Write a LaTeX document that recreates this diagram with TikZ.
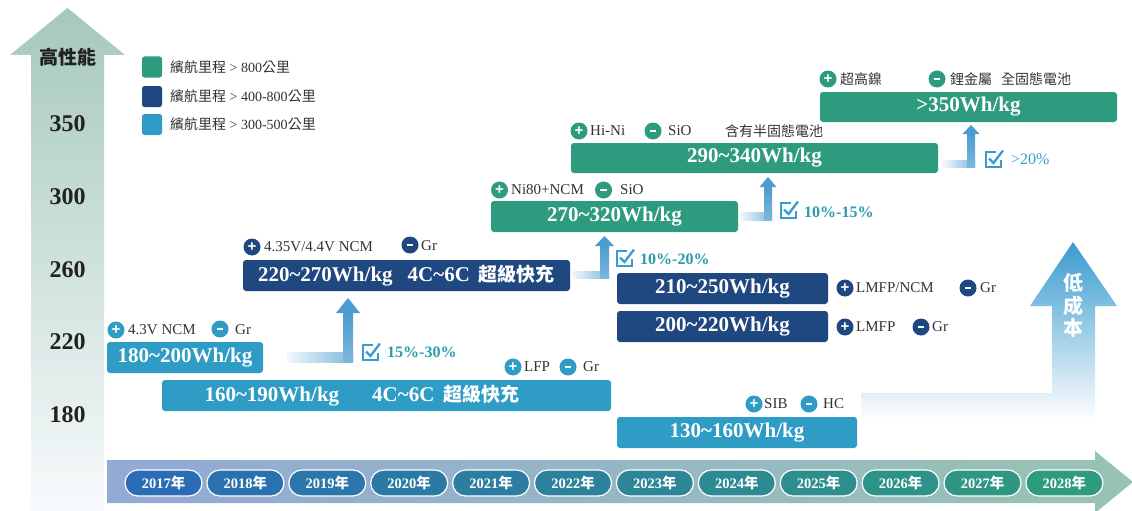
\documentclass[tikz,border=0pt]{standalone}
\usepackage{fontspec}
\setmainfont{Liberation Serif}
\newfontfamily\cjk{Noto Sans CJK TC}
\newfontfamily\sansf{Liberation Sans}
\definecolor{cgreen}{HTML}{2E9B7F}
\definecolor{cdblue}{HTML}{1F4780}
\definecolor{clblue}{HTML}{2E9CC5}
\definecolor{carrow}{HTML}{4C9CCF}
\definecolor{carrowl}{HTML}{7DB7DC}
\definecolor{ccheck}{HTML}{3A9BD0}
\definecolor{cpct}{HTML}{2A9CAD}
\definecolor{cpctb}{HTML}{3A9FCF}
\definecolor{ctext}{HTML}{333333}
\definecolor{caxis}{HTML}{222222}
\definecolor{axtop}{HTML}{A5C8BE}
\definecolor{axbot}{HTML}{F8FAFC}
\definecolor{tlleft}{HTML}{93A9D6}
\definecolor{tlright}{HTML}{98C4B3}
\definecolor{pillA}{HTML}{2A6DB5}
\definecolor{pillB}{HTML}{2E9A7E}
\definecolor{lowtop}{HTML}{3A9BCF}
\newcommand{\mysign}{\rule[-0.8pt]{6.5pt}{1.6pt}}
\tikzset{
 box/.style={rounded corners=3pt, inner sep=0pt, text=white, font=\bfseries\fontsize{21}{21}\selectfont},
 btxt/.style={inner sep=0pt, text=white, font=\bfseries\fontsize{21}{21}\selectfont},
 badge/.style={circle, minimum size=17pt, inner sep=0pt, text=white, font=\sansf\bfseries\fontsize{15}{15}\selectfont},
 lbl/.style={anchor=west, inner sep=0pt, text=ctext, font=\fontsize{15}{15}\selectfont},
 clbl/.style={anchor=west, inner sep=0pt, text=ctext, font=\cjk\fontsize{14}{14}\selectfont},
 legsq/.style={rounded corners=2.5pt, minimum width=20pt, minimum height=21pt, inner sep=0pt},
 legtx/.style={anchor=west, inner sep=0pt, text=ctext, font=\fontsize{14}{14}\selectfont},
 axnum/.style={inner sep=0pt, text=caxis, font=\bfseries\fontsize{24}{24}\selectfont},
 pill/.style={rounded corners=13pt, draw=white, line width=1.2pt, minimum width=77pt, minimum height=26pt, inner sep=0pt, text=white, font=\bfseries\fontsize{14.5}{14.5}\selectfont},
 pct/.style={anchor=west, inner sep=0pt, text=cpct, font=\bfseries\fontsize{16}{16}\selectfont},
 lowtxt/.style={inner sep=0pt, text=white, font=\cjk\bfseries\fontsize{20}{20}\selectfont},
 chk/.pic={
   \draw[ccheck, line width=1.8pt] (10,0) -- (0,0) -- (0,15) -- (15,15) -- (15,8);
   \draw[ccheck, line width=2.3pt, line join=miter] (3,6.5) -- (7.5,11) -- (17,-1.5);
 }
}
\begin{document}
\begin{tikzpicture}[x=1pt,y=-1pt]
\useasboundingbox (0,0) rectangle (1132,511);
\clip (0,0) rectangle (1132,511);
\fill[white] (0,0) rectangle (1132,511);

% left performance arrow
\shade[top color=axtop, bottom color=axbot] (31,511) -- (31,55) -- (10,55) -- (67.5,8) -- (125,55) -- (104,55) -- (104,511) -- cycle;
\node[inner sep=0pt, text=caxis, font=\cjk\bfseries\fontsize{19}{19}\selectfont] (hp) at (67.5,57) {高性能};
\node[axnum] (a350) at (67.5,124) {350};
\node[axnum] (a300) at (67.5,197) {300};
\node[axnum] (a260) at (67.5,270) {260};
\node[axnum] (a220) at (67.5,342) {220};
\node[axnum] (a180) at (67.5,415) {180};

% legend
\node[legsq, fill=cgreen] (sq1) at (152,67) {};
\node[legtx] (lg1) at (170,67) {{\cjk 繽航里程} > 800{\cjk 公里}};
\node[legsq, fill=cdblue] (sq2) at (152,96.5) {};
\node[legtx] (lg2) at (170,96.5) {{\cjk 繽航里程} > 400-800{\cjk 公里}};
\node[legsq, fill=clblue] (sq3) at (152,124.5) {};
\node[legtx] (lg3) at (170,124.5) {{\cjk 繽航里程} > 300-500{\cjk 公里}};

% low cost arrow
\shade[top color=lowtop, bottom color=white] (861,393) -- (1052,393) -- (1052,306) -- (1030,306) -- (1073,242) -- (1117,306) -- (1095,306) -- (1095,420) -- (861,420) -- cycle;
\node[lowtxt] (lc1) at (1073,283) {低};
\node[lowtxt] (lc2) at (1073,306) {成};
\node[lowtxt] (lc3) at (1073,328) {本};

% timeline
\shade[left color=tlleft, right color=tlright] (107,460) -- (1095,460) -- (1095,451) -- (1133,482) -- (1095,513) -- (1095,503) -- (107,503) -- cycle;
\foreach \i in {0,...,11} {
  \pgfmathsetmacro{\px}{163.5+81.9*\i}
  \pgfmathtruncatemacro{\pp}{100-\i*100/11}
  \pgfmathtruncatemacro{\yr}{2017+\i}
  \node[pill, fill=pillA!\pp!pillB] (y\yr) at (\px,483) {\yr{\cjk 年}};
}

% elbow arrows
\shade[left color=carrowl!10, right color=carrowl] (287,352) rectangle (353,362);
\shade[bottom color=carrowl, top color=carrow] (343,362) rectangle (353,313);
\fill[carrow] (336,313) -- (348,298) -- (360,313) -- cycle;

\shade[left color=carrowl!10, right color=carrowl] (572,271) rectangle (609,278);
\shade[bottom color=carrowl, top color=carrow] (600,278) rectangle (609,246);
\fill[carrow] (595,246) -- (604.5,236) -- (614,246) -- cycle;

\shade[left color=carrowl!10, right color=carrowl] (740,212) rectangle (772,220);
\shade[bottom color=carrowl, top color=carrow] (764,220) rectangle (772,187);
\fill[carrow] (759.5,187) -- (768,177) -- (776.5,187) -- cycle;

\shade[left color=carrowl!10, right color=carrowl] (943,160) rectangle (975,167);
\shade[bottom color=carrowl, top color=carrow] (967,167) rectangle (975,134);
\fill[carrow] (962.5,134) -- (971,125) -- (979.5,134) -- cycle;

% check marks and percentages
\pic at (363,345) {chk};
\node[pct] (pc1) at (387,352) {15\%-30\%};
\pic at (617,251) {chk};
\node[pct] (pc2) at (640,259) {10\%-20\%};
\pic at (781,203) {chk};
\node[pct] (pc3) at (804,212) {10\%-15\%};
\pic at (986,152) {chk};
\node[pct, text=cpctb, font=\fontsize{16}{16}\selectfont] (pc4) at (1011,159) {>20\%};

% boxes
\node[box, fill=cgreen, minimum width=297pt, minimum height=30pt] (b350) at (968.5,107) {>350Wh/kg};
\node[box, fill=cgreen, minimum width=367pt, minimum height=30pt] (b290) at (754.5,158) {290\textasciitilde340Wh/kg};
\node[box, fill=cgreen, minimum width=247pt, minimum height=31pt] (b270) at (614.5,216.5) {270\textasciitilde320Wh/kg};
\node[box, fill=cdblue, minimum width=327pt, minimum height=31pt] (b220) at (406.5,275.5) {220\textasciitilde270Wh/kg\hspace{15pt}4C\textasciitilde6C\hspace{9pt}{\cjk\fontsize{19}{19}\selectfont 超級快充}};
\node[box, fill=cdblue, minimum width=211pt, minimum height=31pt] (b210) at (722.5,288.5) {210\textasciitilde250Wh/kg};
\node[box, fill=cdblue, minimum width=211pt, minimum height=31pt] (b200) at (722.5,326.5) {200\textasciitilde220Wh/kg};
\node[box, fill=clblue, minimum width=156pt, minimum height=31pt] (b180) at (185,357.5) {180\textasciitilde200Wh/kg};
\node[box, fill=clblue, minimum width=449pt, minimum height=31pt] (b160) at (386.5,395.5) {};
\node[btxt] (t160) at (362,395.5) {160\textasciitilde190Wh/kg\hspace{33pt}4C\textasciitilde6C\hspace{9pt}{\cjk\fontsize{19}{19}\selectfont 超級快充}};
\node[box, fill=clblue, minimum width=240pt, minimum height=31pt] (b130) at (737,432.5) {130\textasciitilde160Wh/kg};

% labels
\node[badge, fill=cgreen] (p350) at (828,79) {+};
\node[clbl] (l350a) at (840,79) {超高鎳};
\node[badge, fill=cgreen] (m350) at (937,79) {\mysign};
\node[clbl] (l350b) at (950,79) {鋰金屬\hspace{9pt}全固態電池};

\node[badge, fill=cgreen] (p290) at (579,131) {+};
\node[lbl] (l290a) at (590,131) {Hi-Ni};
\node[badge, fill=cgreen] (m290) at (653,131) {\mysign};
\node[lbl] (l290b) at (668,131) {SiO};
\node[clbl] (l290c) at (725,131) {含有半固態電池};

\node[badge, fill=cgreen] (p270) at (499.5,190) {+};
\node[lbl] (l270a) at (511,190) {Ni80+NCM};
\node[badge, fill=cgreen] (m270) at (603.5,190) {\mysign};
\node[lbl] (l270b) at (620,190) {SiO};

\node[badge, fill=cdblue] (p220) at (252,247) {+};
\node[lbl] (l220a) at (264,247) {4.35V/4.4V NCM};
\node[badge, fill=cdblue] (m220) at (410,245) {\mysign};
\node[lbl] (l220b) at (421,246) {Gr};

\node[badge, fill=cdblue] (p210) at (845,288) {+};
\node[lbl] (l210a) at (856,288) {LMFP/NCM};
\node[badge, fill=cdblue] (m210) at (968,288) {\mysign};
\node[lbl] (l210b) at (980,288) {Gr};

\node[badge, fill=cdblue] (p200) at (845,327) {+};
\node[lbl] (l200a) at (856,327) {LMFP};
\node[badge, fill=cdblue] (m200) at (921,327) {\mysign};
\node[lbl] (l200b) at (932,327) {Gr};

\node[badge, fill=clblue] (p180) at (116,330) {+};
\node[lbl] (l180a) at (128,330) {4.3V NCM};
\node[badge, fill=clblue] (m180) at (220,329) {\mysign};
\node[lbl] (l180b) at (235,330) {Gr};

\node[badge, fill=clblue] (p160) at (513,367) {+};
\node[lbl] (l160a) at (524,367) {LFP};
\node[badge, fill=clblue] (m160) at (568,367) {\mysign};
\node[lbl] (l160b) at (583,367) {Gr};

\node[badge, fill=clblue] (p130) at (754,404) {+};
\node[lbl] (l130a) at (764,404) {SIB};
\node[badge, fill=clblue] (m130) at (809,404) {\mysign};
\node[lbl] (l130b) at (823,404) {HC};
\end{tikzpicture}
\end{document}
